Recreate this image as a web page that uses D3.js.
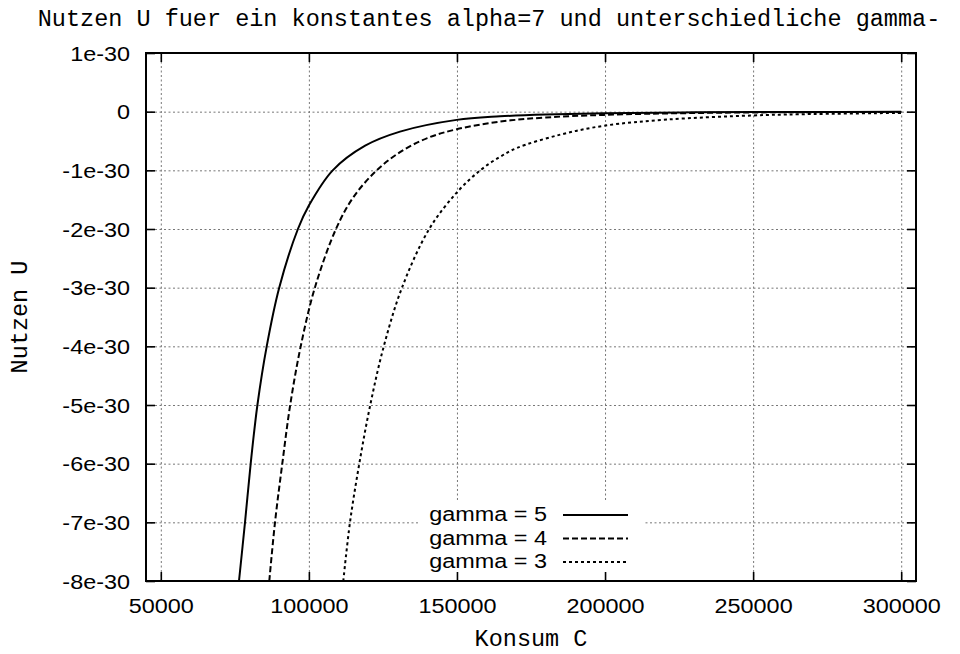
<!DOCTYPE html>
<html>
<head>
<meta charset="utf-8">
<script src="https://cdn.jsdelivr.net/npm/d3@7/dist/d3.min.js"></script>
<style>
    body { margin: 0; background: #fff; }
    .tick text { font-family: "Liberation Sans", Arial, sans-serif; font-size: 20px; fill: #000; }
    .mono { font-family: "Liberation Mono", "Courier New", monospace; font-size: 23.5px; fill: #000; }
</style>
</head>
<body>
<div id="chart"></div>
<script>
// Nutzen U in Einheiten von 1e-30
var konsum5 = [76400, 78430, 80350, 82620, 85760, 89980, 96300, 100000, 108050, 119000, 130770, 149900, 164530, 180000, 199650, 230000, 265830, 300000];
var nutzen5 = [-8, -7, -6, -5, -4, -3, -2, -1.6, -1, -0.58, -0.34, -0.14, -0.08, -0.047, -0.025, -0.011, -0.005, -0.002];

var konsum4 = [86630, 88560, 91020, 93690, 97240, 102020, 109150, 115000, 122900, 130770, 140000, 149910, 164530, 180000, 199650, 230000, 265830, 300000];
var nutzen4 = [-8, -7, -6, -5, -4, -3, -2, -1.46, -1, -0.69, -0.45, -0.30, -0.17, -0.099, -0.055, -0.023, -0.009, -0.005];

var konsum3 = [111620, 113880, 117020, 120720, 125290, 131440, 140630, 149910, 157860, 164530, 170170, 185000, 199650, 220820, 249620, 265830, 300000];
var nutzen3 = [-8, -7, -6, -5, -4, -3, -2, -1.38, -1, -0.77, -0.62, -0.39, -0.24, -0.135, -0.065, -0.044, -0.021];

var xTicks = [50000, 100000, 150000, 200000, 250000, 300000];
var yTicks = [1, 0, -1, -2, -3, -4, -5, -6, -7, -8];
var seriesNames = ["gamma = 5", "gamma = 4", "gamma = 3"];

var svgWidth = 960;
var svgHeight = 654;

var margin = {
    top: 53,
    bottom: 73,
    right: 44,
    left: 146
};

var width = svgWidth - margin.left - margin.right;
var height = svgHeight - margin.top - margin.bottom;

var svg = d3.select("#chart")
    .append("svg")
    .attr("width", svgWidth)
    .attr("height", svgHeight);

var chartGroup = svg.append("g")
    .attr("transform", `translate(${margin.left}, ${margin.top})`);

var xLinearScale = d3.scaleLinear()
    .domain([45000, 305000])
    .range([0, width]);

var yLinearScale = d3.scaleLinear()
    .domain([-8, 1])
    .range([height, 0]);

// stretch text a bit wider, like the gnuplot font
function stretch(sel, k) {
    sel.each(function () {
        var len = this.getComputedTextLength();
        d3.select(this)
            .attr("textLength", len * k)
            .attr("lengthAdjust", "spacingAndGlyphs");
    });
}

// grid
chartGroup.append("g")
    .attr("transform", `translate(0, ${height})`)
    .call(d3.axisBottom(xLinearScale).tickValues(xTicks).tickSize(-height).tickFormat(""))
    .call(g => g.select(".domain").remove())
    .selectAll("line")
    .attr("stroke", "#777")
    .attr("stroke-width", 1)
    .attr("stroke-dasharray", "2,2.5");

chartGroup.append("g")
    .call(d3.axisLeft(yLinearScale).tickValues(yTicks).tickSize(-width).tickFormat(""))
    .call(g => g.select(".domain").remove())
    .selectAll("line")
    .attr("stroke", "#777")
    .attr("stroke-width", 1)
    .attr("stroke-dasharray", "2,2.5");

// legend box (opaque)
var legendGroup = chartGroup.append("g");
legendGroup.append("rect")
    .attr("x", 418 - margin.left)
    .attr("y", 502 - margin.top)
    .attr("width", 226)
    .attr("height", 72)
    .attr("fill", "#fff");

// axes
var leftAxis = d3.axisLeft(yLinearScale)
    .tickValues(yTicks)
    .tickSizeInner(-9)
    .tickSizeOuter(0)
    .tickPadding(16)
    .tickFormat(d => d === 0 ? "0" : d + "e-30");

var bottomAxis = d3.axisBottom(xLinearScale)
    .tickValues(xTicks)
    .tickSizeInner(-9)
    .tickSizeOuter(0)
    .tickFormat(d3.format("d"));

var yAxis = chartGroup.append("g")
    .call(leftAxis);
yAxis.select(".domain").remove();
yAxis.selectAll("text").attr("dy", "0.35em");

var xAxis = chartGroup.append("g")
    .attr("transform", `translate(0, ${height})`)
    .call(bottomAxis);
xAxis.select(".domain").remove();
xAxis.selectAll("text").attr("y", 32).attr("dy", null);

chartGroup.append("g")
    .call(d3.axisTop(xLinearScale).tickValues(xTicks).tickSizeInner(-9).tickSizeOuter(0).tickFormat(""))
    .call(g => g.select(".domain").remove());

chartGroup.append("g")
    .attr("transform", `translate(${width}, 0)`)
    .call(d3.axisRight(yLinearScale).tickValues(yTicks).tickSizeInner(-9).tickSizeOuter(0).tickFormat(""))
    .call(g => g.select(".domain").remove());

chartGroup.selectAll(".tick line")
    .filter(function () { return !d3.select(this).attr("stroke-dasharray"); })
    .attr("stroke", "#000")
    .attr("stroke-width", 1.6);

stretch(chartGroup.selectAll(".tick text"), 1.17);

// border
chartGroup.append("rect")
    .attr("width", width)
    .attr("height", height)
    .attr("fill", "none")
    .attr("stroke", "#000")
    .attr("stroke-width", 2);

// curves
chartGroup.append("clipPath")
    .attr("id", "plotClip")
    .append("rect")
    .attr("width", width)
    .attr("height", height);

var series = [
    { name: seriesNames[0], xs: konsum5, ys: nutzen5, dash: null },
    { name: seriesNames[1], xs: konsum4, ys: nutzen4, dash: "6,3" },
    { name: seriesNames[2], xs: konsum3, ys: nutzen3, dash: "3,3" }
];

var line = d3.line()
    .x(d => xLinearScale(d[0]))
    .y(d => yLinearScale(d[1]))
    .curve(d3.curveCatmullRom.alpha(0.5));

chartGroup.append("g")
    .attr("clip-path", "url(#plotClip)")
    .selectAll("path")
    .data(series)
    .enter()
    .append("path")
    .attr("d", s => line(s.xs.map((c, i) => [c, s.ys[i]])))
    .attr("fill", "none")
    .attr("stroke", "#000")
    .attr("stroke-width", 2)
    .attr("stroke-dasharray", s => s.dash);

// legend rows
var rows = legendGroup.selectAll(".row")
    .data(series)
    .enter()
    .append("g")
    .attr("class", "row")
    .attr("transform", (s, i) => `translate(0, ${515 - margin.top + i * 23.5})`);

rows.append("text")
    .attr("x", 547 - margin.left)
    .attr("y", 6)
    .attr("text-anchor", "end")
    .style("font-family", '"Liberation Sans", Arial, sans-serif')
    .style("font-size", "20px")
    .text(s => s.name)
    .call(stretch, 1.17);

rows.append("line")
    .attr("x1", 563 - margin.left)
    .attr("x2", 628 - margin.left)
    .attr("stroke", "#000")
    .attr("stroke-width", 2)
    .attr("stroke-dasharray", s => s.dash);

// titles
svg.append("text")
    .attr("class", "mono")
    .attr("x", 489)
    .attr("y", 26)
    .attr("text-anchor", "middle")
    .text("Nutzen U fuer ein konstantes alpha=7 und unterschiedliche gamma-");

svg.append("text")
    .attr("class", "mono")
    .attr("x", margin.left + width / 2)
    .attr("y", 646)
    .attr("text-anchor", "middle")
    .text("Konsum C");

svg.append("text")
    .attr("class", "mono")
    .attr("transform", `translate(27, ${margin.top + height / 2}) rotate(-90)`)
    .attr("text-anchor", "middle")
    .text("Nutzen U");
</script>
</body>
</html>
